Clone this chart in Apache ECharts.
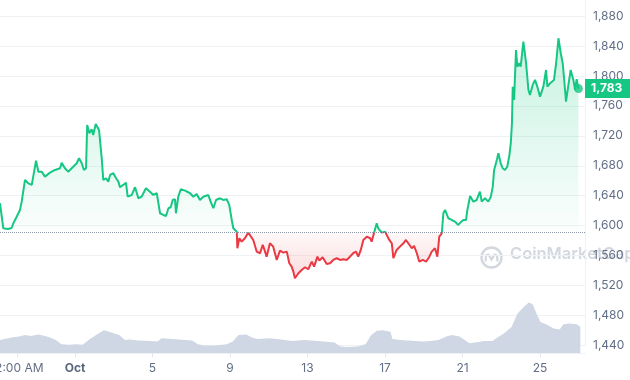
<!DOCTYPE html>
<html><head><meta charset="utf-8">
<script src="https://cdn.jsdelivr.net/npm/echarts@6/dist/echarts.min.js"></script>
<style>html,body{margin:0;padding:0;background:#fff}#c{width:630px;height:380px}</style>
</head><body><div id="c"></div>
<script>
// ---- data (days relative to Oct 1, price in USD) ----
const days = [-3.87,-3.70,-3.46,-3.27,-3.18,-3.01,-2.84,-2.75,-2.58,-2.41,-2.23,-2.15,-2.01,-1.89,-1.72,-1.55,-1.29,-1.03,-0.77,-0.69,-0.52,-0.35,-0.17,0.09,0.21,0.35,0.46,0.57,0.63,0.74,0.86,0.94,1.07,1.24,1.29,1.38,1.46,1.60,1.72,1.81,1.98,2.12,2.24,2.32,2.49,2.63,2.72,2.93,3.10,3.27,3.44,3.66,3.87,4.04,4.22,4.30,4.39,4.56,4.70,4.82,4.94,5.04,5.16,5.21,5.33,5.46,5.68,5.94,6.11,6.28,6.45,6.62,6.88,7.00,7.14,7.28,7.48,7.65,7.83,7.96,8.09,8.17,8.35,8.38,8.48,8.60,8.77,8.94,9.03,9.20,9.38,9.55,9.69,9.81,9.89,10.06,10.23,10.32,10.41,10.58,10.75,10.93,11.06,11.18,11.27,11.35,11.53,11.70,11.87,12.04,12.22,12.34,12.51,12.61,12.78,12.99,13.16,13.33,13.51,13.68,13.85,14.02,14.19,14.36,14.50,14.62,14.75,14.88,15.06,15.23,15.31,15.43,15.57,15.65,15.74,15.83,16.00,16.09,16.22,16.35,16.43,16.60,16.77,16.95,17.08,17.20,17.38,17.50,17.64,17.77,17.95,18.12,18.29,18.41,18.58,18.70,18.80,18.93,19.01,19.10,19.27,19.44,19.61,19.78,19.92,20.04,20.18,20.25,20.39,20.56,20.73,20.90,20.99,21.16,21.33,21.46,21.56,21.63,21.77,21.85,21.97,22.07,22.19,22.31,22.42,22.49,22.55,22.59,22.66,22.76,22.83,22.93,23.00,23.14,23.28,23.40,23.48,23.62,23.74,23.86,24.00,24.17,24.31,24.38,24.52,24.72,24.83,24.95,25.07,25.17,25.24,25.34,25.45,25.58,25.72,25.81,25.89,25.98];
const prices = [1630,1596.5,1595.6,1596.9,1603.2,1612,1621,1632.1,1661,1656.6,1654.4,1652.1,1686.8,1672.1,1672.1,1665.5,1670.8,1674.4,1676.7,1684.1,1676.7,1672.1,1676.7,1683.3,1690,1683.3,1674.4,1676.7,1734.5,1723.4,1728.7,1721.1,1735.8,1727.8,1714.5,1690,1661,1663.3,1658.8,1667.7,1670,1663.3,1658.8,1651.3,1654.4,1657.4,1638.7,1641,1651.3,1636.6,1638.7,1650,1645.4,1641,1643.3,1630.7,1616.6,1614.3,1613,1623.3,1624.6,1634.3,1635.3,1616.6,1638.7,1648.6,1646.8,1643.3,1638.7,1642.4,1634.3,1638.7,1641,1632.1,1623.3,1634.3,1636.6,1634.3,1635.3,1627.7,1607.6,1596.5,1592,1569.8,1583.2,1578.7,1583.2,1590.7,1589.9,1580.9,1565.3,1563.2,1574.3,1565.3,1558.6,1576.5,1572,1563.2,1554.2,1566.6,1564,1565.3,1549.8,1545.3,1538.6,1529.8,1536.5,1540.9,1544.5,1541.8,1551.9,1545.3,1558.6,1553.3,1557.8,1548.9,1549.8,1554.2,1556.5,1554.2,1555.2,1554.2,1558.6,1563.2,1565.3,1558.6,1567.6,1580.9,1585.3,1583.2,1578.7,1589.9,1603.2,1596.5,1594.3,1590.7,1592,1589.9,1580.9,1576.5,1556.5,1567.6,1572,1576.5,1580.9,1576.5,1569.8,1572.9,1563.2,1551.9,1554.2,1551.9,1558.6,1565.3,1569.8,1558.6,1585.3,1589.9,1616.6,1621,1609.9,1607.6,1605.4,1601,1605,1607.6,1607.6,1621,1639.7,1632.1,1634.3,1645.4,1632.1,1636.6,1632.1,1638.7,1652.1,1674.4,1687.8,1696.7,1683.3,1676.7,1674.4,1678.8,1694.4,1710.1,1736.8,1785.6,1767.9,1834.6,1812.3,1816.9,1812.3,1845.7,1816.9,1781.2,1774.5,1787.9,1794.6,1785.6,1772.3,1785.6,1807.9,1785.6,1790.2,1794.6,1816.9,1850.3,1830.2,1816.9,1796.8,1765.6,1785.6,1807.9,1794.6,1781.2,1795.5,1783];
const volDays = [-3.87,-3.28,-2.88,-2.58,-2.28,-1.88,-1.59,-1.29,-0.99,-0.70,-0.30,0.10,0.40,0.70,1.09,1.49,1.59,1.88,2.28,2.58,2.78,3.28,3.87,4.27,4.46,5.06,5.66,6.05,6.35,6.65,7.25,7.84,8.14,8.44,8.84,9.13,9.43,10.02,10.42,10.82,11.22,11.81,12.21,12.81,13.40,13.70,14.00,14.59,14.99,15.29,15.58,15.88,16.28,16.38,16.77,17.57,17.97,18.36,18.76,19.16,19.45,19.85,20.15,20.35,20.74,21.14,21.54,21.74,22.13,22.53,22.83,23.13,23.42,23.62,23.82,24.02,24.32,24.71,25.01,25.21,25.51,25.90,26.08];
const volumes = [3.25,3.9,4.1,4.5,4.25,4.65,4.3,3.9,3.25,2.2,2.05,2.2,2.05,3.25,4.5,5.7,6.1,5.1,4.5,3.25,3.4,3.1,3.0,2.9,3.7,3.5,3.25,3.1,2.2,1.9,1.9,2.2,2.85,4.5,4.65,3.9,3.5,3.7,3.5,3.25,3.0,3.25,3.1,2.9,2.6,1.6,1.5,1.6,2.2,4.5,5.55,5.7,5.3,3.5,3.25,3.0,2.85,3.0,3.25,4.1,4.5,4.1,3.1,2.45,2.7,3.0,3.0,3.7,4.9,6.5,9.8,11.4,12.6,12.2,9.8,7.75,7.2,6.1,5.9,7.2,7.35,7.2,6.5];
const baseline = 1591.5;
const yMin = 1440, yMax = 1900, yStep = 40;
const xMin = -3.87, xMax = 26.32;
const xTickDays = [-3, 0, 4, 8, 12, 16, 20, 24];
const xTickLabels = ['12:00 AM', 'Oct', '5', '9', '13', '17', '21', '25'];

const GREEN = '#16c784', RED = '#ea3943';
const n = Math.min(days.length, prices.length);
const pricePts = [], upPts = [], downPts = [];
for (let i = 0; i < n; i++) {
  pricePts.push([days[i], prices[i]]);
  upPts.push([days[i], Math.max(prices[i], baseline)]);
  downPts.push([days[i], Math.min(prices[i], baseline)]);
}
const volPts = volDays.map((d, i) => [d, volumes[i]]);
const lastPt = pricePts[n - 1];
const fmt = v => Number(v).toLocaleString('en-US');

const chart = echarts.init(document.getElementById('c'), null, {renderer: 'canvas'});
chart.setOption({
  animation: false,
  backgroundColor: '#ffffff',
  grid: [
    {left: 0, right: 45, top: 1, bottom: 34.5, outerBoundsMode: 'none', containLabel: false},
    {left: 0, right: 45, top: 289, bottom: 27, outerBoundsMode: 'none', containLabel: false}
  ],
  xAxis: [
    {gridIndex: 0, type: 'value', min: xMin, max: xMax, show: false},
    {gridIndex: 1, type: 'value', min: xMin, max: xMax,
      axisLine: {show: true, onZero: false, lineStyle: {color: '#eff2f5'}},
      axisTick: {show: true, length: 4, lineStyle: {color: '#e3e6ec'}, customValues: xTickDays},
      splitLine: {show: false},
      axisLabel: {
        customValues: xTickDays, margin: 9, fontFamily: 'Inter', fontSize: 12, color: '#616e85',
        hideOverlap: false,
        formatter: v => {
          const i = xTickDays.findIndex(d => Math.abs(d - v) < 1e-6);
          const t = i >= 0 ? xTickLabels[i] : '';
          return t === 'Oct' ? '{b|Oct}' : t;
        },
        rich: {b: {fontWeight: 'bold', color: '#58667e', fontFamily: 'Inter', fontSize: 12}}
      }
    }
  ],
  yAxis: [
    {gridIndex: 0, type: 'value', position: 'right', min: yMin, max: yMax, interval: yStep,
      axisLine: {show: true, onZero: false, lineStyle: {color: '#eff2f5'}},
      axisTick: {show: false},
      splitLine: {show: true, showMaxLine: false, lineStyle: {color: '#eff2f5'}},
      axisLabel: {showMaxLabel: false, margin: 8, fontFamily: 'Inter', fontSize: 12, color: '#616e85', formatter: fmt}
    },
    {gridIndex: 1, type: 'value', min: 0, max: 16, show: false}
  ],
  visualMap: {
    type: 'piecewise', show: false, seriesIndex: 3, dimension: 1,
    pieces: [{gte: 0, lt: baseline, color: RED}, {gte: baseline, lte: 100000, color: GREEN}]
  },
  graphic: [
    {type: 'group', left: 479, top: 245, z: -1, silent: true, children: [
      {type: 'circle', shape: {cx: 11, cy: 11, r: 10}, style: {fill: 'none', stroke: '#d3d7de', lineWidth: 2.4}},
      {type: 'polyline', shape: {points: [[5, 15], [5.5, 9], [8, 8], [11, 13], [14, 8], [16.5, 9], [17, 15]]},
        style: {fill: 'none', stroke: '#d3d7de', lineWidth: 2.2}}
    ]},
    {type: 'text', left: 510, top: 246, z: -1, silent: true,
      style: {text: 'CoinMarketCap', font: '600 16.5px Inter', fill: '#d3d7de'}}
  ],
  series: [
    {type: 'line', xAxisIndex: 1, yAxisIndex: 1, data: volPts, symbol: 'none', silent: true,
      lineStyle: {width: 0}, areaStyle: {color: '#cfd6e4', opacity: 1}, z: 1},
    {type: 'line', xAxisIndex: 0, yAxisIndex: 0, data: upPts, symbol: 'none', silent: true,
      lineStyle: {width: 0, opacity: 0},
      areaStyle: {origin: baseline, opacity: 1, color: new echarts.graphic.LinearGradient(0, 0, 0, 1, [
        {offset: 0, color: 'rgba(22,199,132,0.24)'}, {offset: 1, color: 'rgba(22,199,132,0.02)'}])},
      markLine: {silent: true, symbol: ['none', 'none'], label: {show: false},
        lineStyle: {type: 'dotted', color: '#8f98a8', width: 1}, data: [{yAxis: baseline}]},
      z: 2},
    {type: 'line', xAxisIndex: 0, yAxisIndex: 0, data: downPts, symbol: 'none', silent: true,
      lineStyle: {width: 0, opacity: 0},
      areaStyle: {origin: baseline, opacity: 1, color: new echarts.graphic.LinearGradient(0, 0, 0, 1, [
        {offset: 0, color: 'rgba(234,57,67,0.03)'}, {offset: 1, color: 'rgba(234,57,67,0.18)'}])},
      z: 2},
    {type: 'line', xAxisIndex: 0, yAxisIndex: 0, data: pricePts, symbol: 'none', silent: true,
      lineStyle: {width: 2}, z: 3},
    {type: 'scatter', xAxisIndex: 0, yAxisIndex: 0, data: [lastPt], symbol: 'circle', symbolSize: 9,
      itemStyle: {color: GREEN}, silent: true, z: 4,
      markLine: {silent: true, symbol: ['none', 'none'], z: 10,
        lineStyle: {color: 'rgba(0,0,0,0)', width: 0, type: 'solid'},
        label: {show: true, position: 'end', distance: 0, formatter: () => fmt(lastPt[1]),
          backgroundColor: GREEN, color: '#ffffff', fontWeight: 'bold', fontFamily: 'Inter', fontSize: 12,
          padding: [4, 14, 3, 6], opacity: 1},
        data: [{yAxis: lastPt[1]}]}
    }
  ]
});
</script></body></html>
